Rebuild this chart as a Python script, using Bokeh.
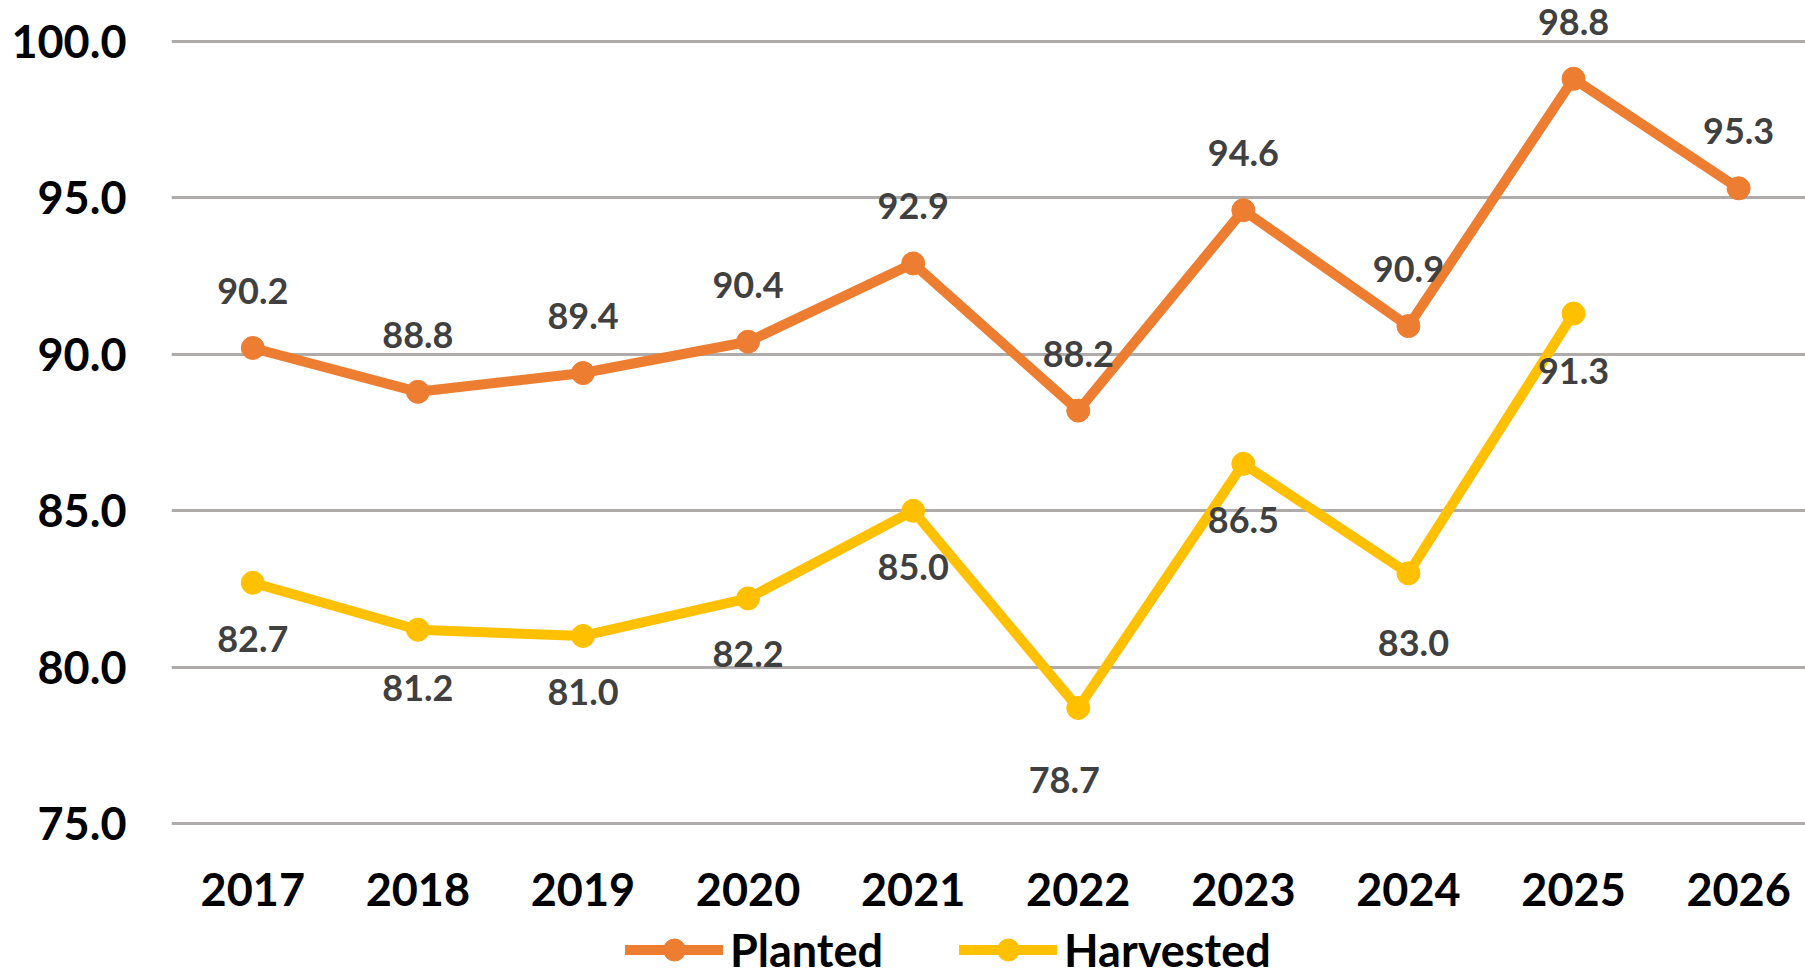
from bokeh.plotting import figure
from bokeh.layouts import column
from bokeh.models import Range1d, FixedTicker, NumeralTickFormatter, Legend, LegendItem
from bokeh.embed import file_html
from bokeh.resources import INLINE
from bokeh.core.properties import value

# ---- data ----
years = [2017, 2018, 2019, 2020, 2021, 2022, 2023, 2024, 2025, 2026]
planted = [90.2, 88.8, 89.4, 90.4, 92.9, 88.2, 94.6, 90.9, 98.8, 95.3]
harvested_years = [2017, 2018, 2019, 2020, 2021, 2022, 2023, 2024, 2025]
harvested = [82.7, 81.2, 81.0, 82.2, 85.0, 78.7, 86.5, 83.0, 91.3]
y_ticks = [75, 80, 85, 90, 95, 100]
series_names = ["Planted", "Harvested"]

# ---- styles ----
ORANGE = "#ED7D31"
YELLOW = "#FFC000"
GRID = "#AFABAB"
LABEL = "#404040"
FONT = value("Lato")
# data-label placement (screen pixels)
planted_label_dy = -57
harvested_label_dy = [56, 58, 56, 56, 56, 72, 56, 70, 57]
harvested_label_dx = [0, 0, 0, 0, 0, -14, 0, 5, 0]

p = figure(width=1805, height=930, output_backend="svg", toolbar_location=None,
           x_range=Range1d(2016.5076, 2026.405), y_range=Range1d(74.946, 101.300),
           min_border_left=171, min_border_right=0, min_border_top=0, min_border_bottom=105)
p.outline_line_color = None
p.background_fill_color = "white"
p.border_fill_color = "white"

p.xgrid.visible = False
p.yaxis.ticker = FixedTicker(ticks=y_ticks)
p.ygrid.grid_line_color = GRID
p.ygrid.grid_line_width = 3

p.yaxis.formatter = NumeralTickFormatter(format="0.0")
p.xaxis.ticker = FixedTicker(ticks=years)
p.xaxis.major_label_overrides = {y: str(y) for y in years}
for ax in (p.xaxis, p.yaxis):
    ax.axis_line_color = None
    ax.major_tick_line_color = None
    ax.minor_tick_line_color = None
    ax.major_tick_out = 0
    ax.major_tick_in = 0
    ax.minor_tick_out = 0
    ax.minor_tick_in = 0
    ax.major_label_text_font = "Lato"
    ax.major_label_text_font_style = "bold"
    ax.major_label_text_color = "black"
p.yaxis.major_label_text_font_size = "45px"
p.yaxis.major_label_standoff = 45
p.xaxis.major_label_text_font_size = "45px"
p.xaxis.major_label_standoff = 47

line_kw = dict(line_width=10, line_cap="round", line_join="round")
p.line(years, planted, color=ORANGE, **line_kw)
p.scatter(years, planted, size=23, color=ORANGE)
p.line(harvested_years, harvested, color=YELLOW, **line_kw)
p.scatter(harvested_years, harvested, size=23, color=YELLOW)

p.text(x=years, y=planted, text=[f"{v:.1f}" for v in planted], y_offset=planted_label_dy,
       text_align="center", text_baseline="middle", text_font=FONT,
       text_font_style="bold", text_font_size="36px", text_color=LABEL)
p.text(x=harvested_years, y=harvested, text=[f"{v:.1f}" for v in harvested],
       x_offset=harvested_label_dx, y_offset=harvested_label_dy,
       text_align="center", text_baseline="middle", text_font=FONT,
       text_font_style="bold", text_font_size="36px", text_color=LABEL)

# ---- legend strip below the chart ----
lg = figure(width=1805, height=40, output_backend="svg", toolbar_location=None,
            x_range=Range1d(0, 1), y_range=Range1d(0, 1),
            x_axis_type=None, y_axis_type=None,
            min_border_left=0, min_border_right=0, min_border_top=0, min_border_bottom=0)
lg.outline_line_color = None
lg.grid.visible = False
# swatch renderers (their data lies outside this strip's ranges, only the legend shows them)
la = lg.line(years, planted, color=ORANGE, **line_kw)
sa = lg.scatter(years, planted, size=23, color=ORANGE)
lb = lg.line(harvested_years, harvested, color=YELLOW, **line_kw)
sb = lg.scatter(harvested_years, harvested, size=23, color=YELLOW)

legend = Legend(items=[LegendItem(label=series_names[0], renderers=[la, sa]),
                       LegendItem(label=series_names[1], renderers=[lb, sb])],
                orientation="horizontal", location=(454, -7),
                glyph_width=98, glyph_height=55, label_standoff=7, spacing=76,
                padding=0, margin=0, border_line_color=None, background_fill_alpha=0,
                label_text_font="Lato", label_text_font_size="45px",
                label_text_font_style="bold", label_text_color="black")
lg.add_layout(legend)

layout = column(p, lg, spacing=0)
open("out.html", "w").write(file_html(layout, INLINE))
